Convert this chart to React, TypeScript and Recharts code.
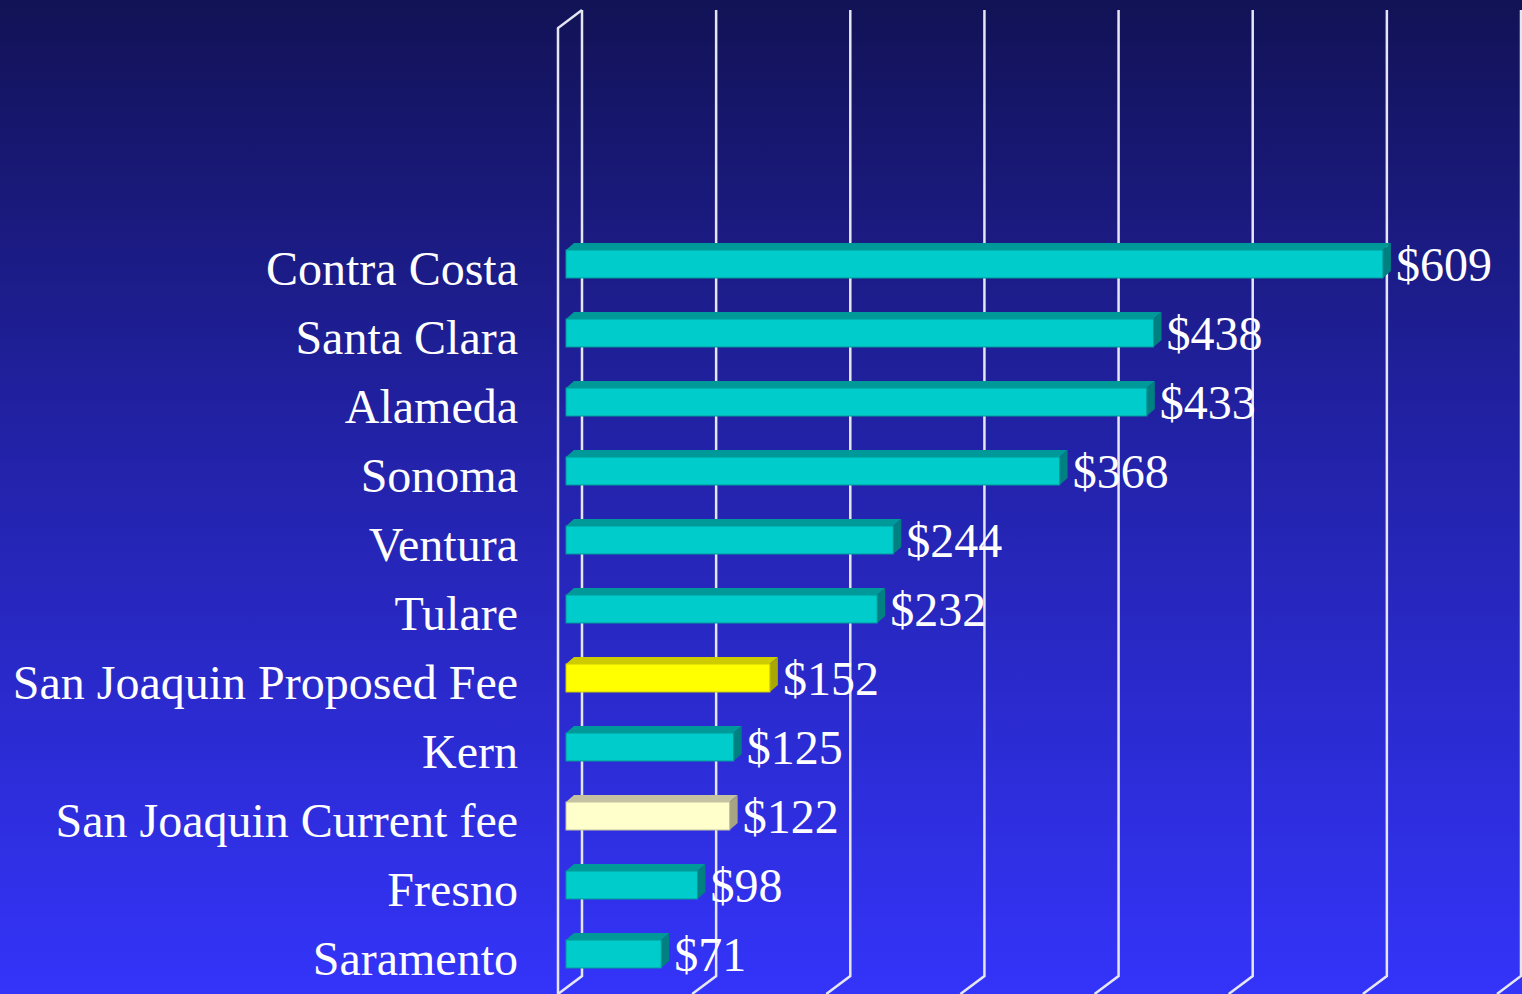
import React from 'react';
import { BarChart, Bar, XAxis, YAxis, CartesianGrid, LabelList } from 'recharts';

const counties = [
  'Contra Costa',
  'Santa Clara',
  'Alameda',
  'Sonoma',
  'Ventura',
  'Tulare',
  'San Joaquin Proposed Fee',
  'Kern',
  'San Joaquin Current fee',
  'Fresno',
  'Saramento',
];
const fees = [609, 438, 433, 368, 244, 232, 152, 125, 122, 98, 71];
const gridTicks = [0, 100, 200, 300, 400, 500, 600, 700];

// front / top / side colours for each bar kind
const palettes: Record<string, [string, string, string]> = {
  normal: ['#00cccc', '#009999', '#008080'],
  proposed: ['#ffff00', '#cccc00', '#a8a800'],
  current: ['#ffffcc', '#c4c2a0', '#a6a482'],
};
const kindOf = (name: string) =>
  name === 'San Joaquin Proposed Fee' ? 'proposed' : name === 'San Joaquin Current fee' ? 'current' : 'normal';

const data = counties.map((name, i) => ({ name, fee: fees[i], kind: kindOf(name) }));

const DX = 8; // bar depth
const DY = 7;
const FONT = '"Liberation Serif", "Times New Roman", serif';
const GRID = '#e6e6f2';

const Bar3D = (props: any) => {
  const { x, y, width, height, payload } = props;
  const [front, top, side] = palettes[payload.kind];
  const fx = x + DX;
  return (
    <g>
      <polygon
        points={`${fx},${y} ${fx + DX},${y - DY} ${fx + width + DX},${y - DY} ${fx + width},${y}`}
        fill={top}
      />
      <polygon
        points={`${fx + width},${y} ${fx + width + DX},${y - DY} ${fx + width + DX},${y + height - DY} ${fx + width},${y + height}`}
        fill={side}
      />
      <rect x={fx} y={y} width={width} height={height} fill={front} stroke={top} strokeWidth={1} />
    </g>
  );
};

// gridline drawn from the floor front edge, back and up the back wall
const gridLine3D = (props: any) => {
  const { x1, index } = props;
  const back = x1 + 3 * DX;
  return (
    <polyline
      key={`grid-${index}-${x1}`}
      points={`${x1},994 ${back},976 ${back},10`}
      fill="none"
      stroke={GRID}
      strokeWidth={2.5}
    />
  );
};

const CountyTick = (props: any) => {
  const { x, y, payload } = props;
  return (
    <text x={x} y={y + 21} textAnchor="end" fill="#ffffff" fontSize={48} fontFamily={FONT}>
      {payload.value}
    </text>
  );
};

const ValueLabel = (props: any) => {
  const { x, y, width, height, value } = props;
  return (
    <text
      x={x + width + 2 * DX + 5}
      y={y + height / 2 + 17}
      fill="#ffffff"
      fontSize={48}
      fontFamily={FONT}
    >
      ${value}
    </text>
  );
};

export default function App() {
  return (
    <div
      style={{
        position: 'absolute',
        left: 0,
        top: 0,
        width: 1522,
        height: 994,
        overflow: 'hidden',
        background: 'linear-gradient(to bottom, #121256 0%, #2222a8 45%, #3434fa 100%)',
      }}
    >
      <BarChart
        width={1522}
        height={994}
        data={data}
        layout="vertical"
        margin={{ top: 229, right: 25, bottom: 6, left: 0 }}
        barSize={28}
      >
        <polyline points="558,994 558,28 582,10" fill="none" stroke={GRID} strokeWidth={2.5} />
        <CartesianGrid horizontal={false} vertical={gridLine3D} verticalValues={gridTicks} />
        <XAxis type="number" domain={[0, 700]} ticks={gridTicks} hide />
        <YAxis
          type="category"
          dataKey="name"
          width={558}
          tickLine={false}
          axisLine={false}
          tickSize={0}
          tickMargin={40}
          interval={0}
          tick={<CountyTick />}
        />
        <Bar dataKey="fee" isAnimationActive={false} shape={<Bar3D />}>
          <LabelList dataKey="fee" content={<ValueLabel />} />
        </Bar>
      </BarChart>
    </div>
  );
}
